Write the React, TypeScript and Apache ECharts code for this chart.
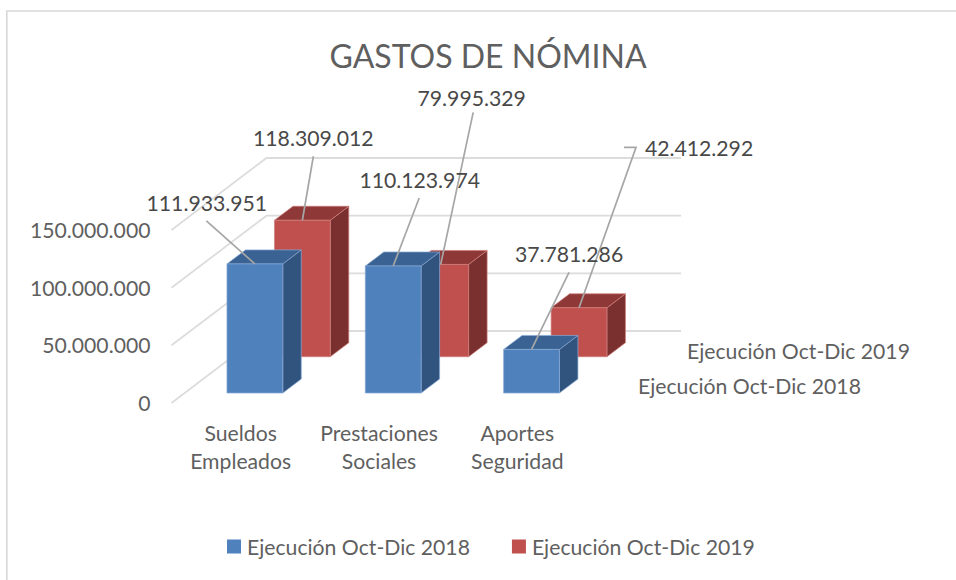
import React, { useEffect, useRef } from "react";
import * as echarts from "echarts";

const titleText = "GASTOS DE NÓMINA";
const categories = ["Sueldos\nEmpleados", "Prestaciones\nSociales", "Aportes\nSeguridad"];
const seriesNames = ["Ejecución Oct-Dic 2018", "Ejecución Oct-Dic 2019"];
const values2018 = [111933951, 110123974, 37781286];
const values2019 = [118309012, 79995329, 42412292];
const yTicks = [0, 50000000, 100000000, 150000000];

const FONT = "Lato";
const FS = 21.2;
const TEXT = "#5f5f5f";
const LABEL = "#484848";
const fmt = (v: number) => String(v).replace(/\B(?=(\d{3})+(?!\d))/g, ".");

// oblique projection of the 3D chart
const WALL_DX = 95;
const WALL_DY = -72;
const WALL_RIGHT = 681;
const BAR_W = 55.8;
const BAR_DX = 18.5;
const BAR_DY = -14;
const rowStyle = [
  { dx: -13.7, dy: -10, front: "#4f81bd", top: "#3a6393", side: "#31547e", edge: "#86a9d4" },
  { dx: 33.8, dy: -46.3, front: "#c0504d", top: "#8e3937", side: "#7a302e", edge: "#cf7d7b" },
];
// leader path (relative to the bar's top-centre) and label centre, per row/category
const leaders = [
  [
    { path: [[-48.5, -43]], label: [-48, -61] },
    { path: [[26, -68]], label: [26.5, -86] },
    { path: [[37.5, -77]], label: [37.5, -95] },
  ],
  [
    { path: [[11, -64]], label: [11, -82] },
    { path: [[32.5, -152]], label: [31, -166] },
    { path: [[57, -160.5], [45, -160.5]], label: [120, -160] },
  ],
];

export default function App() {
  const ref = useRef<HTMLDivElement>(null);
  useEffect(() => {
    const chart = echarts.init(ref.current!, null, { renderer: "svg" });
    const rows = [values2018, values2019];
    const topCentre = (api: any, row: number) => {
      const top = api.coord([api.value(0), api.value(1)]);
      const s = rowStyle[row];
      return [top[0] + s.dx + BAR_W / 2, top[1] + s.dy];
    };
    const barRender = (row: number) => (_p: any, api: any) => {
      const cat = api.value(0);
      const t = api.coord([cat, api.value(1)]);
      const b = api.coord([cat, 0]);
      const s = rowStyle[row];
      const l = t[0] + s.dx;
      const r = l + BAR_W;
      const yt = t[1] + s.dy;
      const yb = b[1] + s.dy;
      const st = (fill: string) => ({ fill, stroke: s.edge, lineWidth: 0.7 });
      return {
        type: "group",
        children: [
          { type: "polygon", shape: { points: [[r, yt], [r + BAR_DX, yt + BAR_DY], [r + BAR_DX, yb + BAR_DY], [r, yb]] }, style: st(s.side) },
          { type: "polygon", shape: { points: [[l, yt], [l + BAR_DX, yt + BAR_DY], [r + BAR_DX, yt + BAR_DY], [r, yt]] }, style: st(s.top) },
          { type: "rect", shape: { x: l, y: yt, width: BAR_W, height: yb - yt }, style: st(s.front) },
        ],
      };
    };
    const pointData: number[][] = [];
    rows.forEach((vals, row) => vals.forEach((v, i) => pointData.push([i, v, row])));

    chart.setOption({
      animation: false,
      backgroundColor: "#ffffff",
      title: {
        text: titleText,
        left: 483,
        top: 34,
        textAlign: "center",
        textStyle: { fontFamily: FONT, fontSize: 32, fontWeight: "normal", color: TEXT },
      },
      legend: {
        data: seriesNames,
        left: 227,
        top: 536,
        padding: 0,
        icon: "rect",
        itemWidth: 14,
        itemHeight: 14,
        itemGap: 42,
        textStyle: { fontFamily: FONT, fontSize: FS, color: TEXT, padding: [0, 0, 0, 1] },
      },
      grid: { left: 171.5, top: 230, width: 415, height: 173 },
      xAxis: {
        type: "category",
        data: categories,
        axisLine: { show: false },
        axisTick: { show: false },
        axisLabel: { fontFamily: FONT, fontSize: FS, color: TEXT, lineHeight: 28, margin: 16, interval: 0 },
      },
      yAxis: {
        type: "value",
        min: 0,
        max: 150000000,
        interval: 50000000,
        axisLine: { show: false },
        axisTick: { show: false },
        splitLine: { show: false },
        axisLabel: { fontFamily: FONT, fontSize: FS, color: TEXT, margin: 21, padding: [2, 0, 0, 0], formatter: (v: number) => fmt(v) },
      },
      series: [
        {
          name: "walls",
          type: "custom",
          silent: true,
          z: 1,
          data: yTicks.map((v) => [0, v]),
          encode: { x: 0, y: 1 },
          renderItem: (p: any, api: any) => {
            const y = api.coord([0, api.value(1)])[1];
            const x = p.coordSys.x;
            return {
              type: "polyline",
              shape: { points: [[x, y], [x + WALL_DX, y + WALL_DY], [WALL_RIGHT, y + WALL_DY]] },
              style: { fill: "none", stroke: "#dcdcdc", lineWidth: 1.8 },
            };
          },
        },
        {
          name: seriesNames[1],
          type: "custom",
          z: 2,
          itemStyle: { color: rowStyle[1].front },
          data: values2019.map((v, i) => [i, v]),
          encode: { x: 0, y: 1 },
          renderItem: barRender(1),
        },
        {
          name: seriesNames[0],
          type: "custom",
          z: 3,
          itemStyle: { color: rowStyle[0].front },
          data: values2018.map((v, i) => [i, v]),
          encode: { x: 0, y: 1 },
          renderItem: barRender(0),
        },
        {
          name: "leaders",
          type: "custom",
          silent: true,
          z: 4,
          data: pointData,
          encode: { x: 0, y: 1 },
          renderItem: (_p: any, api: any) => {
            const row = api.value(2);
            const a = topCentre(api, row);
            const leader = leaders[row][api.value(0)];
            const pts = [a, ...leader.path.map((d) => [a[0] + d[0], a[1] + d[1]])];
            return { type: "polyline", shape: { points: pts }, style: { fill: "none", stroke: "#a6a6a6", lineWidth: 1.7 } };
          },
        },
        {
          name: "labels",
          type: "custom",
          silent: true,
          z: 5,
          data: pointData,
          encode: { x: 0, y: 1 },
          renderItem: (_p: any, api: any) => {
            const row = api.value(2);
            const a = topCentre(api, row);
            const leader = leaders[row][api.value(0)];
            return {
              type: "text",
              style: {
                text: fmt(api.value(1)),
                x: a[0] + leader.label[0],
                y: a[1] + leader.label[1],
                align: "center",
                verticalAlign: "middle",
                fill: LABEL,
                fontFamily: FONT,
                fontSize: FS,
              },
            };
          },
        },
      ],
      graphic: [
        {
          type: "polyline",
          silent: true,
          shape: { points: [[6.8, 580], [6.8, 11], [956, 11]] },
          style: { fill: "none", stroke: "#d9d9d9", lineWidth: 1.7 },
        },
        {
          type: "text",
          silent: true,
          style: { text: seriesNames[1], x: 687, y: 351, verticalAlign: "middle", fill: TEXT, fontFamily: FONT, fontSize: FS },
        },
        {
          type: "text",
          silent: true,
          style: { text: seriesNames[0], x: 638, y: 386, verticalAlign: "middle", fill: TEXT, fontFamily: FONT, fontSize: FS },
        },
      ],
    });
    return () => chart.dispose();
  }, []);
  return <div ref={ref} style={{ position: "absolute", left: 0, top: 0, width: 956, height: 580 }} />;
}
